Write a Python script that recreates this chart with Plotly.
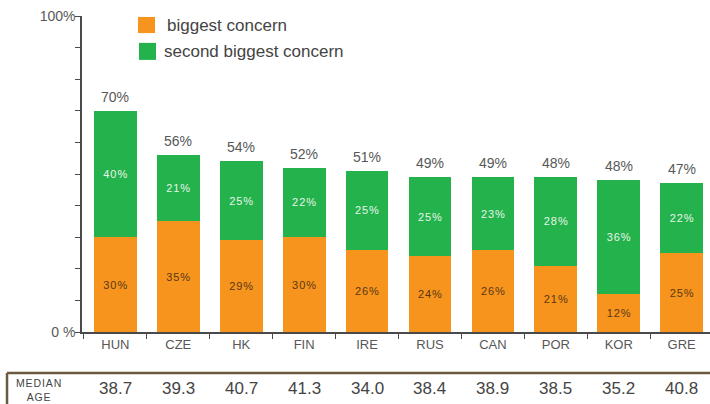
import plotly.graph_objects as go

# Survey shares by country (percent of respondents)
countries = ["HUN", "CZE", "HK", "FIN", "IRE", "RUS", "CAN", "POR", "KOR", "GRE"]
biggest = [30, 35, 29, 30, 26, 24, 26, 21, 12, 25]
second = [40, 21, 25, 22, 25, 25, 23, 28, 36, 22]
totals = [70, 56, 54, 52, 51, 49, 49, 48, 48, 47]
median_age = ["38.7", "39.3", "40.7", "41.3", "34.0", "38.4", "38.9", "38.5", "35.2", "40.8"]

ORANGE = "#F7941D"
GREEN = "#23B24C"
TEXT = "#585858"
AXIS = "#4a4a4a"
FONT = "Liberation Sans, Arial, sans-serif"

HS = "\u200a"  # hair space for the tracked-out small labels


def spaced(s):
    return HS.join(s)


fig = go.Figure()
fig.add_trace(go.Bar(
    x=countries, y=biggest, name="biggest concern",
    marker=dict(color=ORANGE, line_width=0),
    text=[spaced(f"{v}%") for v in biggest], textposition="inside",
    insidetextanchor="middle",
    textfont=dict(size=11, color="#5a3714", family=FONT),
))
fig.add_trace(go.Bar(
    x=countries, y=second, name="second biggest concern",
    marker=dict(color=GREEN, line_width=0),
    text=[spaced(f"{v}%") for v in second], textposition="inside",
    insidetextanchor="middle",
    textfont=dict(size=11, color="#e8f5ea", family=FONT),
))

annotations = []
# totals above each stack
for c, b, s, t in zip(countries, biggest, second, totals):
    annotations.append(dict(
        x=c, y=b + s, xref="x", yref="y", text=f"{t}%", showarrow=False,
        yanchor="bottom", yshift=4, font=dict(size=14, color=TEXT, family=FONT),
    ))

# median age row
for c, a in zip(countries, median_age):
    annotations.append(dict(
        x=c, y=-0.178, xref="x", yref="paper", text=a, showarrow=False,
        yanchor="middle", font=dict(size=17, color="#444444", family=FONT),
    ))
annotations.append(dict(
    x=-0.070, y=-0.182, xref="paper", yref="paper",
    text=spaced("MEDIAN") + "<br>" + spaced("AGE"), showarrow=False,
    xanchor="center", yanchor="middle", align="center",
    font=dict(size=10.5, color="#444444", family=FONT),
))

# legend drawn as swatches plus labels
annotations.append(dict(
    x=0.132, y=0.969, xref="paper", yref="paper", text="biggest concern",
    showarrow=False, xanchor="left", yanchor="middle",
    font=dict(size=17, color="#444444", family=FONT),
))
annotations.append(dict(
    x=0.127, y=0.888, xref="paper", yref="paper", text="second biggest concern",
    showarrow=False, xanchor="left", yanchor="middle",
    font=dict(size=17, color="#444444", family=FONT),
))

shapes = [
    dict(type="rect", xref="paper", yref="paper", x0=0.0892, x1=0.1162,
         y0=0.946, y1=0.997, fillcolor=ORANGE, line_width=0),
    dict(type="rect", xref="paper", yref="paper", x0=0.0908, x1=0.1178,
         y0=0.861, y1=0.915, fillcolor=GREEN, line_width=0),
    # median age box: top rule and left edge
    dict(type="line", xref="paper", yref="paper", x0=-0.1194, x1=1.01,
         y0=-0.13, y1=-0.13, line=dict(color="#6b5a3e", width=2.5)),
    dict(type="line", xref="paper", yref="paper", x0=-0.1194, x1=-0.1194,
         y0=-0.13, y1=-0.25, line=dict(color="#6b5a3e", width=2.5)),
]

fig.update_layout(
    width=710, height=404,
    margin=dict(l=82, r=0, t=16, b=72),
    barmode="stack", bargap=0.32,
    showlegend=False,
    paper_bgcolor="white", plot_bgcolor="white",
    font=dict(family=FONT, color=TEXT),
    uniformtext=dict(mode="show", minsize=8),
    annotations=annotations, shapes=shapes,
)
fig.update_xaxes(
    range=[-0.53, 9.45], showline=True, linecolor=AXIS, linewidth=1.5,
    ticks="outside", tickson="boundaries", ticklen=5, tickcolor=AXIS,
    tickfont=dict(size=13, color=TEXT, family=FONT), showgrid=False,
)
fig.update_yaxes(
    range=[0, 100], showline=True, linecolor=AXIS, linewidth=1.5,
    ticks="outside", ticklen=5, tickcolor=AXIS,
    tickvals=list(range(0, 101, 10)),
    ticktext=["0 %"] + [""] * 9 + ["100%"],
    ticklabelstandoff=-3,
    tickfont=dict(size=14, color=TEXT, family=FONT), showgrid=False,
    zeroline=False,
)

fig.write_html("out.html")
